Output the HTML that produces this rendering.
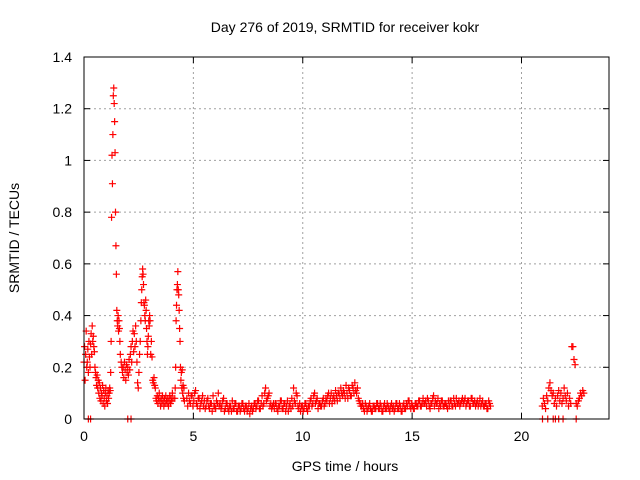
<!DOCTYPE html>
<html><head><meta charset="utf-8"><style>
html,body{margin:0;padding:0;background:#fff;}
svg{display:block;font-family:"Liberation Sans",sans-serif;}
</style></head><body>
<svg id="chart" width="640" height="480" viewBox="0 0 640 480" xmlns="http://www.w3.org/2000/svg">
<text x="345" y="32" font-size="14" text-anchor="middle">Day 276 of 2019, SRMTID for receiver kokr</text>
<text transform="translate(19,238) rotate(-90)" font-size="14" text-anchor="middle">SRMTID / TECUs</text>
<text x="345" y="471" font-size="14" text-anchor="middle">GPS time / hours</text>
<g id="grid"></g><g id="ticks"></g><g id="marks"></g>
<rect x="84" y="57" width="525" height="362" fill="none" stroke="#000" stroke-width="1"/>
</svg>
<script>
const xTicks=[0,5,10,15,20];
const yTicks=[0,0.2,0.4,0.6,0.8,1,1.2,1.4];
const yTickLabels=["0","0.2","0.4","0.6","0.8","1","1.2","1.4"];
const segStarts=[0.0,1.2,1.7,2.6,3.05,4.15,4.7,4.74,20.95];
const segSteps=[0.025,0.02,0.03,0.02,0.03,0.02,0.08,0.08,0.05];
const segValues=[
[0.22,0.28,0.15,0.25,0.34,0.2,0.22,0.27,0.18,0.3,0.24,0.2,0.29,0.33,0.25,0.36,0.3,0.32,0.28,0.26,0.2,0.18,0.16,0.13,0.17,0.12,0.15,0.1,0.14,0.08,0.12,0.07,0.1,0.09,0.13,0.06,0.11,0.08,0.05,0.1,0.12,0.07,0.09,0.06,0.11,0.08,0.1,0.12],
[0.11,0.18,0.3,0.78,1.02,0.91,1.1,1.25,1.28,1.22,1.15,1.03,0.8,0.67,0.56,0.42,0.38,0.36,0.4,0.34,0.38,0.35,0.3,0.25],
[0.22,0.2,0.18,0.2,0.16,0.22,0.19,0.15,0.21,0.18,0.2,0.17,0.23,0.19,0.25,0.28,0.22,0.3,0.34,0.26,0.33,0.28,0.36,0.3,0.22,0.14,0.12,0.18,0.25,0.3],
[0.38,0.45,0.5,0.55,0.58,0.56,0.52,0.45,0.44,0.4,0.38,0.46,0.42,0.35,0.3,0.25,0.28,0.32,0.38,0.36,0.4,0.38],
[0.25,0.3,0.24,0.15,0.14,0.16,0.13,0.12,0.08,0.07,0.09,0.06,0.08,0.1,0.07,0.05,0.08,0.06,0.09,0.07,0.05,0.08,0.06,0.09,0.07,0.06,0.08,0.05,0.07,0.09,0.06,0.08,0.07,0.1,0.08],
[0.08,0.12,0.2,0.38,0.44,0.5,0.52,0.57,0.5,0.48,0.42,0.35,0.3,0.2,0.15,0.18,0.12,0.19,0.1,0.13,0.08,0.12,0.07],
[0.08,0.1,0.06,0.09,0.07,0.11,0.05,0.08,0.06,0.09,
0.07,0.05,0.08,0.04,0.06,0.09,0.05,0.07,0.1,0.06,
0.05,0.08,0.04,0.06,0.03,0.05,0.07,0.04,0.06,0.03,
0.05,0.04,0.06,0.03,0.05,0.04,0.02,0.05,0.04,0.06,
0.05,0.07,0.04,0.09,0.06,0.12,0.08,0.1,0.06,0.05,
0.04,0.06,0.03,0.05,0.07,0.04,0.06,0.05,0.03,0.06,
0.08,0.12,0.06,0.09,0.04,0.03,0.05,0.04,0.06,0.03,
0.05,0.08,0.06,0.1,0.07,0.04,0.06,0.05,0.08,0.06,
0.07,0.1,0.08,0.06,0.09,0.11,0.07,0.1,0.12,0.09,
0.1,0.13,0.08,0.11,0.09,0.12,0.14,0.1,0.08,0.06,
0.05,0.04,0.06,0.03,0.05,0.04,0.03,0.05,0.04,0.06,
0.04,0.05,0.03,0.06,0.04,0.05,0.03,0.06,0.05,0.04,
0.06,0.04,0.05,0.03,0.06,0.04,0.05,0.07,0.04,0.05,
0.04,0.06,0.05,0.07,0.05,0.08,0.06,0.05,0.07,0.04,
0.06,0.09,0.07,0.06,0.04,0.05,0.07,0.05,0.06,0.04,
0.05,0.07,0.05,0.06,0.08,0.06,0.05,0.07,0.06,0.08,
0.06,0.07,0.05,0.08,0.06,0.05,0.07,0.06,0.05,0.07,
0.05,0.06,0.04,0.06],
[0.05,0.07,0.09,0.05,0.1,0.06,0.08,0.04,0.07,0.05,
0.04,0.07,0.05,0.06,0.03,0.05,0.04,0.06,0.05,0.04,
0.07,0.03,0.06,0.04,0.05,0.03,0.04,0.06,0.03,0.05,
0.03,0.06,0.04,0.05,0.03,0.06,0.04,0.03,0.06,0.04,
0.07,0.04,0.06,0.05,0.1,0.07,0.09,0.05,0.04,0.06,
0.06,0.04,0.05,0.07,0.04,0.06,0.03,0.07,0.05,0.04,
0.05,0.07,0.1,0.05,0.06,0.05,0.03,0.06,0.04,0.05,
0.07,0.05,0.09,0.06,0.08,0.06,0.05,0.07,0.05,0.08,
0.09,0.06,0.1,0.08,0.07,0.09,0.1,0.08,0.1,0.11,
0.08,0.1,0.12,0.09,0.13,0.1,0.11,0.12,0.07,0.05,
0.06,0.03,0.05,0.04,0.06,0.03,0.05,0.04,0.06,0.04,
0.06,0.03,0.05,0.04,0.06,0.04,0.05,0.04,0.03,0.06,
0.04,0.06,0.03,0.05,0.04,0.06,0.07,0.05,0.06,0.04,
0.06,0.05,0.07,0.05,0.06,0.06,0.07,0.08,0.05,0.06,
0.08,0.05,0.06,0.08,0.06,0.07,0.05,0.06,0.05,0.07,
0.07,0.05,0.08,0.05,0.06,0.07,0.06,0.08,0.07,0.05,
0.07,0.05,0.08,0.06,0.07,0.06,0.05,0.08,0.06,0.05,
0.06,0.04,0.07,0.05],
[0.05,0.08,0.06,0.04,0.09,0.07,0.12,0.14,0.11,0.09,0.1,0.06,0.08,0.05,0.09,0.11,0.07,0.1,0.06,0.08,0.12,0.09,0.07,0.1,0.05,0.08,0.06,0.28,0.28,0.23,0.21,0.06,0.05,0.07,0.08,0.1,0.09,0.11,0.1]
];
const zeroTimes=[0.2,0.3,2.0,2.15,20.96,21.2,21.45,21.55,21.7,21.9,22.5];

const NS="http://www.w3.org/2000/svg";
const X0=84,X1=609,Y0=419,Y1=57;
function xs(t){return X0+(t/24)*(X1-X0);}
function ys(v){return Y0-(v/1.4)*(Y0-Y1);}
function mk(tag,attrs,parent){const e=document.createElementNS(NS,tag);for(const k in attrs)e.setAttribute(k,attrs[k]);parent.appendChild(e);return e;}
const grid=document.getElementById('grid'),ticks=document.getElementById('ticks'),marks=document.getElementById('marks');
xTicks.forEach(t=>{const x=xs(t);
 if(t>0){const g=mk('line',{x1:x,y1:Y0,x2:x,y2:Y1,stroke:'#a0a0a0','stroke-dasharray':'2,3'},grid);
 
 }
 mk('line',{x1:x,y1:Y0,x2:x,y2:Y0-6,stroke:'#000'},ticks);
 mk('line',{x1:x,y1:Y1,x2:x,y2:Y1+6,stroke:'#000'},ticks);
 const l=mk('text',{x:x,y:Y0+22,'font-size':14,'text-anchor':'middle'},ticks);l.textContent=t;
 
 
});
yTicks.forEach((v,i)=>{const y=ys(v);
 if(v>0&&v<1.4){const g=mk('line',{x1:X0,y1:y,x2:X1,y2:y,stroke:'#a0a0a0','stroke-dasharray':'2,3'},grid);
 
 }
 mk('line',{x1:X0,y1:y,x2:X0+6,y2:y,stroke:'#000'},ticks);
 mk('line',{x1:X1,y1:y,x2:X1-6,y2:y,stroke:'#000'},ticks);
 const l=mk('text',{x:X0-12,y:y+5,'font-size':14,'text-anchor':'end'},ticks);l.textContent=yTickLabels[i];
 
 
});
function plus(t,v){const x=xs(t),y=ys(v);
 const p=mk('path',{d:`M${x-3.5},${y}H${x+3.5}M${x},${y-3.5}V${y+3.5}`,stroke:'#ff0000','stroke-width':1.2,fill:'none'},marks);
 
 
}
segValues.forEach((vals,s)=>vals.forEach((v,i)=>plus(segStarts[s]+i*segSteps[s],v)));
zeroTimes.forEach(t=>plus(t,0));
</script>
</body></html>
